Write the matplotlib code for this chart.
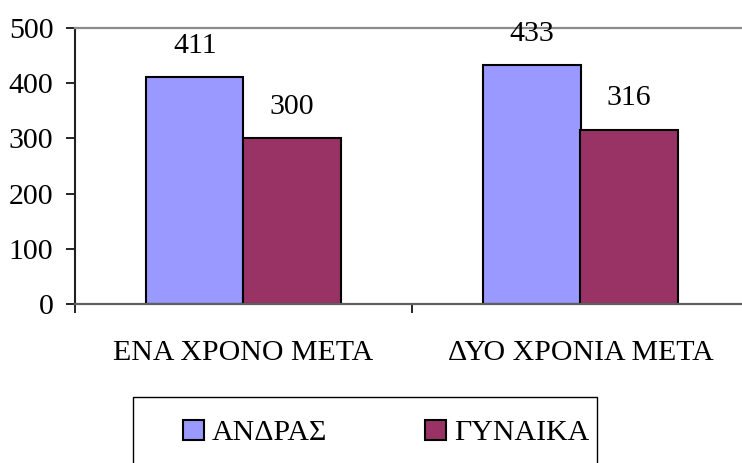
import matplotlib.pyplot as plt
import numpy as np
from matplotlib.patches import Rectangle

plt.rcParams['font.family'] = ['Liberation Serif', 'DejaVu Serif']

categories = ['ΕΝΑ ΧΡΟΝΟ ΜΕΤΑ', 'ΔΥΟ ΧΡΟΝΙΑ ΜΕΤΑ']
men = [411, 433]
women = [300, 316]
series_names = ['ΑΝΔΡΑΣ', 'ΓΥΝΑΙΚΑ']
y_ticks = [0, 100, 200, 300, 400, 500]

fs = 21.5

fig = plt.figure(figsize=(7.42, 4.63), dpi=100)
ax = fig.add_axes([75/742, 1 - 304/463, 674/742, 276/463])

x = np.arange(len(categories))
w = 0.288
b1 = ax.bar(x - w/2, men, w, color='#9999FF', edgecolor='black', linewidth=1.5, label=series_names[0])
b2 = ax.bar(x + w/2, women, w, color='#993366', edgecolor='black', linewidth=1.5, label=series_names[1])

for bars, vals in ((b1, men), (b2, women)):
    for r, v in zip(bars, vals):
        ax.annotate(str(v), (r.get_x() + r.get_width()/2, v), xytext=(0, 22.5),
                    textcoords='offset points', ha='center', va='center', fontsize=fs)

ax.set_xlim(-0.5, 1.5)
ax.set_ylim(0, 500)
ax.set_yticks(y_ticks)
ax.tick_params(axis='y', labelsize=fs, length=6.5, width=1.2, pad=9, colors='black')
ax.set_xticks(x)
ax.set_xticklabels(categories)
ax.tick_params(axis='x', which='major', length=0, labelsize=fs, pad=26)
ax.set_xticks([-0.5, 0.5, 1.5], minor=True)
ax.tick_params(axis='x', which='minor', length=6.5, width=1.2)

ax.spines['left'].set_color('#202020')
ax.spines['left'].set_linewidth(1.5)
ax.spines['top'].set_color('#8c8c8c')
ax.spines['top'].set_linewidth(1.6)
ax.spines['bottom'].set_color('#606060')
ax.spines['bottom'].set_linewidth(1.6)
ax.spines['right'].set_visible(False)

fig.legend(handles=[b1, b2], labels=series_names, ncol=2, frameon=False,
           loc='center left', bbox_to_anchor=(183/742, 1 - 433/463),
           borderpad=0, borderaxespad=0, handlelength=0.7, handleheight=0.7,
           handletextpad=0.25, columnspacing=3.3, fontsize=fs)
fig.patches.append(Rectangle((133/742, -0.05), 464/742, 1 - 397/463 + 0.05,
                             transform=fig.transFigure, fill=False,
                             edgecolor='black', linewidth=1))

plt.savefig('out.png', dpi=100)
